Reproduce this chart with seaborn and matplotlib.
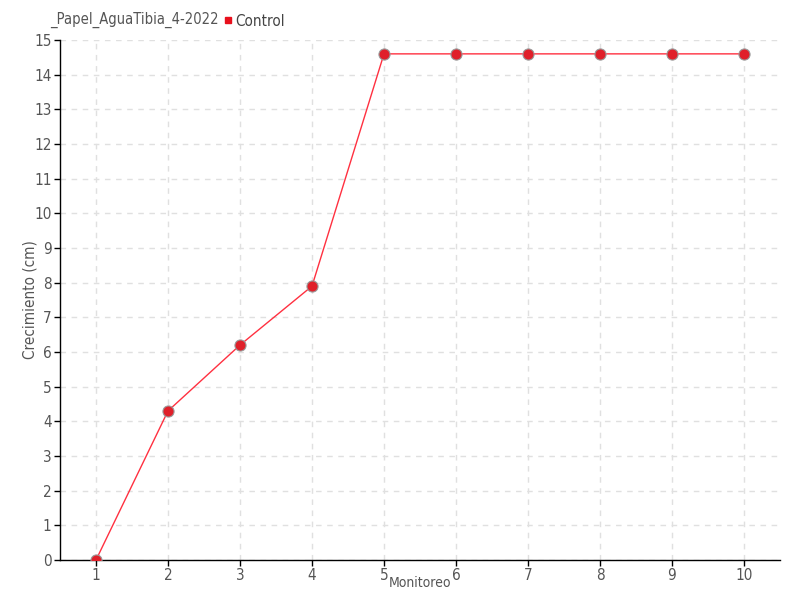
import matplotlib
matplotlib.use("Agg")
import matplotlib.pyplot as plt
import seaborn as sns
import pandas as pd
from matplotlib.lines import Line2D
from matplotlib import font_manager

monitoreo = [1, 2, 3, 4, 5, 6, 7, 8, 9, 10]
crecimiento = [0, 4.3, 6.2, 7.9, 14.6, 14.6, 14.6, 14.6, 14.6, 14.6]
series_name = "Control"
title = "_Papel_AguaTibia_4-2022"

sns.set_style("white")
names = {f.name for f in font_manager.fontManager.ttflist}
fam = "Liberation Sans Narrow" if "Liberation Sans Narrow" in names else "DejaVu Sans"
plt.rcParams['font.family'] = [fam, 'DejaVu Sans']
if fam == "DejaVu Sans":
    plt.rcParams['font.stretch'] = 'condensed'

df = pd.DataFrame({"Monitoreo": monitoreo, "Crecimiento": crecimiento})

fig = plt.figure(figsize=(8, 6), dpi=100)
ax = fig.add_axes([60/800, 40/600, 720/800, 520/600])

sns.lineplot(data=df, x="Monitoreo", y="Crecimiento", ax=ax, color="#ff3040",
             linewidth=1, marker="o", markersize=8, markerfacecolor="#e0202a",
             markeredgecolor="#999999", markeredgewidth=0.8, zorder=3)

ax.set_xlim(0.5, 10.5)
ax.set_ylim(0, 15)
ax.set_xticks(monitoreo)
ax.set_yticks(range(0, 16))
ax.grid(True, linestyle=(0, (4, 4)), color="#e0e0e0", linewidth=1)
for s in ["top", "right"]:
    ax.spines[s].set_visible(False)
for s in ["left", "bottom"]:
    ax.spines[s].set_color("black")
    ax.spines[s].set_linewidth(1)
ax.tick_params(axis="both", direction="out", length=4, width=1, color="black",
               labelsize=11, labelcolor="#555555", pad=2, left=True, bottom=True)

ax.set_xlabel("Monitoreo", fontsize=10, color="#555555", labelpad=0)
ax.xaxis.set_label_coords(0.5, -0.031)
ax.set_ylabel("Crecimiento (cm)", fontsize=11, color="#555555", labelpad=4)
ax.yaxis.set_label_coords(-0.031, 0.5)

fig.text(50/800, 1 - 20/600, title, fontsize=10.5, color="#555555", va="center", ha="left")
handle = Line2D([], [], marker="s", linestyle="none", markersize=5,
                markerfacecolor="#e8101c", markeredgecolor="#e8101c")
fig.legend([handle], [series_name], loc="center left", bbox_to_anchor=(214/800, 1 - 21/600),
           frameon=False, fontsize=11, handletextpad=0.1, borderpad=0, handlelength=0.8,
           labelcolor="#444444")

fig.savefig("out.png", dpi=100)
